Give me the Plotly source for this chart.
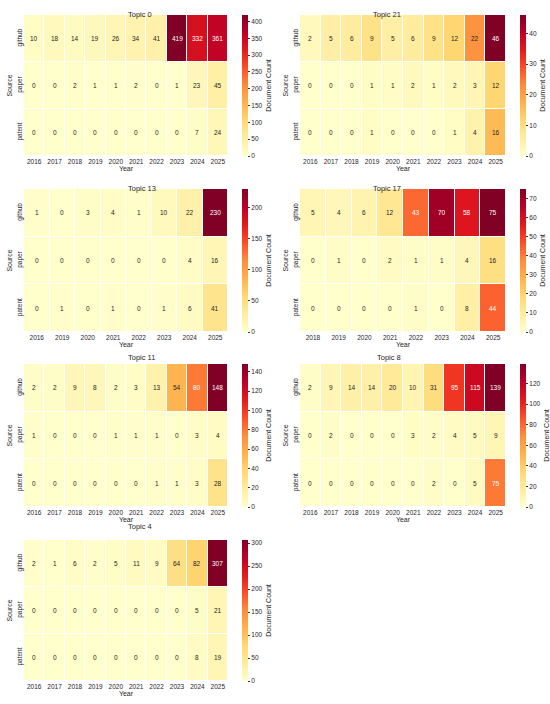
import plotly.graph_objects as go

sources = ['github', 'paper', 'patent']
years_all = ['2016', '2017', '2018', '2019', '2020', '2021', '2022', '2023', '2024', '2025']
years_t13 = ['2016', '2019', '2020', '2021', '2022', '2023', '2024', '2025']
years_t17 = ['2018', '2019', '2020', '2021', '2022', '2023', '2024', '2025']

# Topic 0
t0_github = [10, 18, 14, 19, 26, 34, 41, 419, 332, 361]
t0_paper = [0, 0, 2, 1, 1, 2, 0, 1, 23, 45]
t0_patent = [0, 0, 0, 0, 0, 0, 0, 0, 7, 24]
# Topic 21
t21_github = [2, 5, 6, 9, 5, 6, 9, 12, 22, 46]
t21_paper = [0, 0, 0, 1, 1, 2, 1, 2, 3, 12]
t21_patent = [0, 0, 0, 1, 0, 0, 0, 1, 4, 16]
# Topic 13
t13_github = [1, 0, 3, 4, 1, 10, 22, 230]
t13_paper = [0, 0, 0, 0, 0, 0, 4, 16]
t13_patent = [0, 1, 0, 1, 0, 1, 6, 41]
# Topic 17
t17_github = [5, 4, 6, 12, 43, 70, 58, 75]
t17_paper = [0, 1, 0, 2, 1, 1, 4, 16]
t17_patent = [0, 0, 0, 0, 1, 0, 8, 44]
# Topic 11
t11_github = [2, 2, 9, 8, 2, 3, 13, 54, 80, 148]
t11_paper = [1, 0, 0, 0, 1, 1, 1, 0, 3, 4]
t11_patent = [0, 0, 0, 0, 0, 0, 1, 1, 3, 28]
# Topic 8
t8_github = [2, 9, 14, 14, 20, 10, 31, 95, 115, 139]
t8_paper = [0, 2, 0, 0, 0, 3, 2, 4, 5, 9]
t8_patent = [0, 0, 0, 0, 0, 0, 2, 0, 5, 75]
# Topic 4
t4_github = [2, 1, 6, 2, 5, 11, 9, 64, 82, 307]
t4_paper = [0, 0, 0, 0, 0, 0, 0, 0, 5, 21]
t4_patent = [0, 0, 0, 0, 0, 0, 0, 0, 8, 19]

panels = [
    ('Topic 0', years_all, [t0_github, t0_paper, t0_patent], 50),
    ('Topic 21', years_all, [t21_github, t21_paper, t21_patent], 10),
    ('Topic 13', years_t13, [t13_github, t13_paper, t13_patent], 50),
    ('Topic 17', years_t17, [t17_github, t17_paper, t17_patent], 10),
    ('Topic 11', years_all, [t11_github, t11_paper, t11_patent], 20),
    ('Topic 8', years_all, [t8_github, t8_paper, t8_patent], 20),
    ('Topic 4', years_all, [t4_github, t4_paper, t4_patent], 50),
]

# matplotlib YlOrRd
ylorrd = ['#ffffcc', '#ffeda0', '#fed976', '#feb24c', '#fd8d3c',
          '#fc4e2a', '#e31a1c', '#bd0026', '#800026']
cscale = [[i / (len(ylorrd) - 1), c] for i, c in enumerate(ylorrd)]


def hex_rgb(h):
    return [int(h[i:i + 2], 16) / 255 for i in (1, 3, 5)]


def cell_color(t):
    n = len(ylorrd) - 1
    k = min(int(t * n), n - 1)
    f = t * n - k
    a, b = hex_rgb(ylorrd[k]), hex_rgb(ylorrd[k + 1])
    return [a[i] + (b[i] - a[i]) * f for i in range(3)]


def luminance(rgb):
    lin = [c / 12.92 if c <= 0.03928 else ((c + 0.055) / 1.055) ** 2.4 for c in rgb]
    return 0.2126 * lin[0] + 0.7152 * lin[1] + 0.0722 * lin[2]


# layout in pixels (550 x 704 page)
W, H = 550, 704
col_x = [(24, 228), (300, 506)]
row_y = [(15, 156), (189, 332), (364, 507), (540, 681)]
font = 'Liberation Sans, Arial, sans-serif'
txt = '#262626'

fig = go.Figure()
annotations = []
layout = {}

for i, (title, years, rows, step) in enumerate(panels):
    r, c = divmod(i, 2)
    x0, x1 = col_x[c]
    y0, y1 = row_y[r]
    n = i + 1
    xa, ya = 'x' if n == 1 else f'x{n}', 'y' if n == 1 else f'y{n}'
    zmax = max(max(v) for v in rows)
    dom_y = [1 - y1 / H, 1 - y0 / H]
    fig.add_trace(go.Heatmap(
        z=rows, x=years, y=sources, xaxis=xa, yaxis=ya,
        colorscale=cscale, zmin=0, zmax=zmax, xgap=1, ygap=1,
        hoverinfo='skip',
        colorbar=dict(
            x=(x1 + 14) / W, xanchor='left', xpad=0,
            y=sum(dom_y) / 2, yanchor='middle', ypad=0,
            len=dom_y[1] - dom_y[0], thickness=6, outlinewidth=0,
            ticks='outside', ticklen=2.5, tickwidth=0.6, tickcolor='#333',
            dtick=step, tick0=0, tickfont=dict(size=6.5, color=txt),
            title=dict(text='Document Count', side='right',
                       font=dict(size=7, color=txt)),
        ),
    ))
    # cell labels, placed by category index
    for ri, vals in enumerate(rows):
        for ci, v in enumerate(vals):
            lum = luminance(cell_color(v / zmax))
            annotations.append(dict(
                x=ci, y=ri, xref=xa, yref=ya, text=str(v),
                showarrow=False,
                font=dict(size=6.5, color='#ffffff' if lum < 0.408 else txt),
            ))
    annotations.append(dict(
        x=(x0 + x1) / 2 / W, y=1 - (y0 - 7) / H, xref='paper', yref='paper',
        text=title, showarrow=False, font=dict(size=7.5, color=txt),
    ))
    key = '' if n == 1 else str(n)
    layout['xaxis' + key] = dict(
        domain=[x0 / W, x1 / W], anchor=ya, type='category',
        range=[-0.5, len(years) - 0.5], automargin=False,
        showgrid=False, zeroline=False, showline=False, ticks='',
        tickfont=dict(size=6.5, color=txt),
        title=dict(text='Year', font=dict(size=7, color=txt), standoff=2),
    )
    layout['yaxis' + key] = dict(
        domain=dom_y, anchor=xa, type='category',
        range=[len(sources) - 0.5, -0.5], automargin=False,
        showgrid=False, zeroline=False, showline=False, ticks='',
        tickangle=-90, tickfont=dict(size=6.5, color=txt),
        title=dict(text='Source', font=dict(size=7, color=txt), standoff=2),
    )

fig.update_layout(
    width=W, height=H, margin=dict(l=0, r=0, t=0, b=0, pad=0),
    paper_bgcolor='white', plot_bgcolor='white',
    font=dict(family=font, color=txt),
    annotations=annotations, showlegend=False,
    **layout,
)

# drop the browser's default body margin so the figure fills the window
fig.write_html('out.html', config={'displayModeBar': False},
               post_script="document.body.style.margin = '0';")
